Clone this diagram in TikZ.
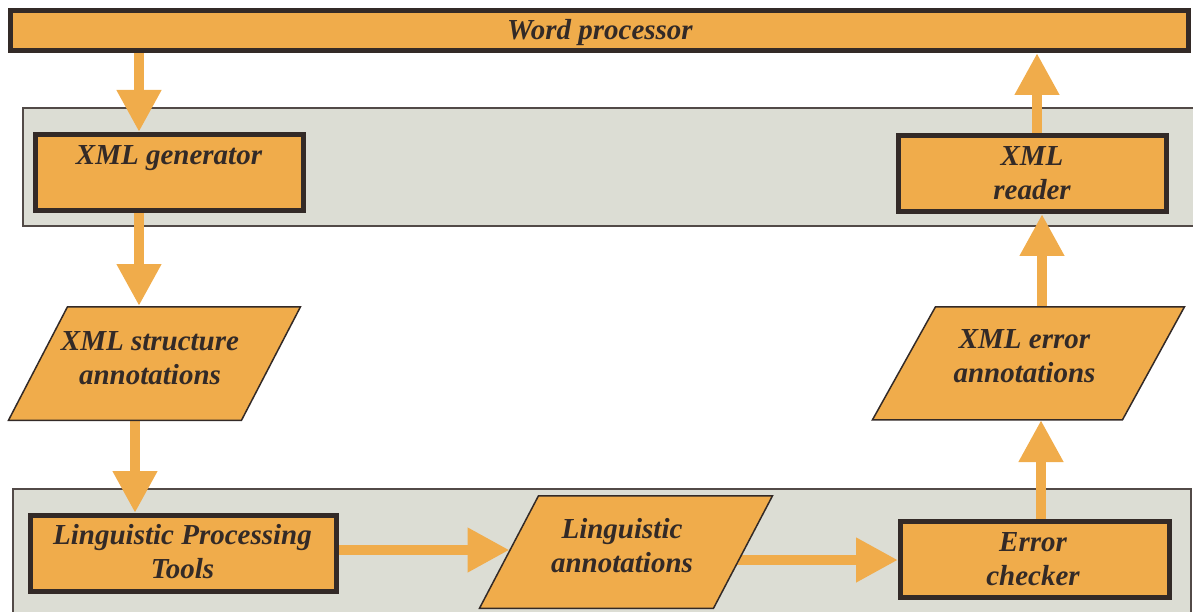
\documentclass[tikz,border=0pt]{standalone}
\usepackage{fontspec}
\setmainfont{Liberation Serif}
\usetikzlibrary{arrows.meta,backgrounds}
\definecolor{org}{HTML}{F0AC4B}
\definecolor{dk}{HTML}{332A27}
\definecolor{pan}{HTML}{DCDDD4}
\begin{document}
\begin{tikzpicture}[x=1pt,y=-1pt,
  panel/.style={draw=dk!85, line width=1.5pt, fill=pan},
  box/.style={draw=dk, line width=5pt, fill=org, minimum width=268pt, minimum height=76pt, inner sep=0pt},
  area/.style={draw=none, inner sep=0pt, outer sep=0pt, minimum height=115pt},
  para/.style={draw=dk, line width=1.5pt, fill=org, line join=miter},
  txt/.style={font=\fontsize{29}{34}\selectfont\bfseries\itshape, text=dk, align=center, anchor=base, inner sep=0pt},
  flow/.style={draw=org, line width=10.5pt, -{Triangle[width=42pt,length=42pt]}}]
\useasboundingbox (0,0) rectangle (1193,612);
% boxes
\node[box, minimum width=1178pt, minimum height=40pt] (wp) at (599.5,30.5) {};
\node[box] (gen) at (169.5,172.5) {};
\node[box] (xr) at (1032.5,173.5) {};
\node[box, minimum width=306pt] (lpt) at (183.5,553.5) {};
\node[box, minimum width=269pt] (ec) at (1035,559.5) {};
% parallelograms
\draw[para] (67.5,306.75) -- (300.5,306.75) -- (241.5,420.25) -- (8.5,420.25) -- cycle;
\draw[para] (538.5,495.75) -- (772.5,495.75) -- (713.5,608.25) -- (479.5,608.25) -- cycle;
\draw[para] (935.5,306.75) -- (1184.5,306.75) -- (1122.5,419.75) -- (872.5,419.75) -- cycle;
\node[area, minimum width=293pt] (xsa) at (154.5,363.5) {};
\node[area, minimum width=294pt, minimum height=114pt] (la) at (626,552) {};
\node[area, minimum width=313pt, minimum height=114pt] (xea) at (1028.5,363) {};
% texts (base anchor = baseline of the last line)
\node[txt] (wpt) at (600,40) {Word processor};
\node[txt] (gent) at (169,165) {XML generator};
\node[txt] (xrt) at (1032,200) {XML\\reader};
\node[txt] (xsat) at (150,384) {XML structure\\annotations};
\node[txt] (lptt) at (182.5,578.5) {Linguistic Processing\\Tools};
\node[txt] (lat) at (622,572) {Linguistic\\annotations};
\node[txt] (ect) at (1033,585.5) {Error\\checker};
\node[txt] (xeat) at (1024.5,382.5) {XML error\\annotations};
% helper coordinates
\coordinate (a1) at (139,0);
\coordinate (a3) at (135,0);
\coordinate (a4) at (0,550);
\coordinate (a5) at (0,560);
\coordinate (a6) at (1041,0);
\coordinate (a7) at (1042,0);
\coordinate (a8) at (1037,0);
\coordinate (lal) at (509.5,550);
\begin{scope}[on background layer]
\draw[panel] (23,108) rectangle (1205,226);
\draw[panel] (13,489) rectangle (1191,625);
\draw[flow] (wp.south -| a1) -- (gen.north -| a1);
\draw[flow] (gen.south -| a1) -- (xsa.north -| a1);
\draw[flow] (xsa.south -| a3) -- (lpt.north -| a3);
\draw[flow] (lpt.east |- a4) -- (lal);
\draw[flow] (la.center |- a5) -- (ec.west |- a5);
\draw[flow] (ec.north -| a6) -- (xea.south -| a6);
\draw[flow] (xea.north -| a7) -- (xr.south -| a7);
\draw[flow] (xr.north -| a8) -- (wp.south -| a8);
\end{scope}
\end{tikzpicture}
\end{document}
